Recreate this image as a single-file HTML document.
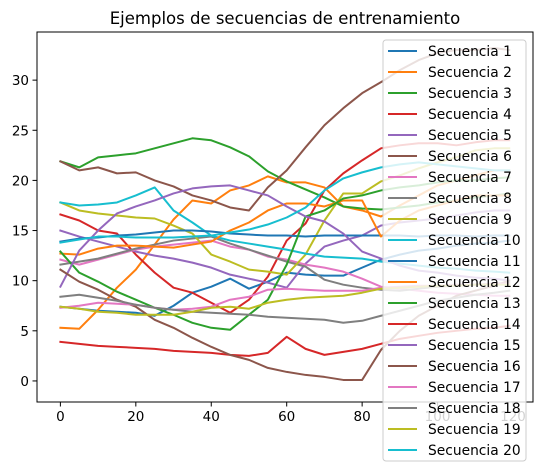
<!DOCTYPE html>
<html><head><meta charset="utf-8"><style>
html,body{margin:0;padding:0;background:#fff;}
svg{display:block;font-family:"DejaVu Sans","Liberation Sans",sans-serif;}
</style></head><body>
<svg id="chart" width="543" height="472" xmlns="http://www.w3.org/2000/svg">
<text x="285" y="24" text-anchor="middle" font-size="16.5">Ejemplos de secuencias de entrenamiento</text>
<g id="plot"></g>
<rect x="37" y="32" width="496" height="370" fill="none" stroke="#000" stroke-width="1"/>
<g id="ticks"></g>
<g id="legend"></g>
</svg>
<script>
const xs = [0,5,10,15,20,25,30,35,40,45,50,55,60,65,70,75,80,85,90,95,100,105,110,115,119];
const s1 = [7.4,7.2,7.0,6.9,6.8,6.5,7.5,8.8,9.4,10.2,9.2,9.9,10.8,10.6,10.5,10.5,11.3,12.1,12.6,13,13.2,13.5,13.7,13.8,14];
const s2 = [5.3,5.2,7.1,9.3,11.1,13.6,16.1,18,17.7,19,19.5,20.4,19.8,19.8,19.3,17.4,17,16.4,17.5,18.5,19.5,20,20.5,21,21];
const s3 = [21.9,21.3,22.3,22.5,22.7,23.2,23.7,24.2,24,23.3,22.4,20.9,19.9,19.1,18.3,17.4,17.2,17.1,17.3,17.5,17.8,18,18.3,18.5,18.7];
const s4 = [16.6,16,15,14.7,12.6,10.8,9.3,8.8,7.8,6.8,8.1,10.4,14,15.7,19,20.7,22,23.2,23.5,23.7,23.7,23.5,23.8,24,24];
const s5 = [15,14.4,13.9,13.4,12.9,12.5,12.2,11.8,11.3,10.6,10.2,9.8,9.3,11.7,13.4,14,14.5,15.5,15.8,16,16.2,16.5,16.8,17,17];
const s6 = [21.9,21,21.3,20.7,20.8,20,19.4,18.5,18,17.3,17,19.3,21,23.3,25.5,27.2,28.7,29.8,31,32,32.7,33,33,33.2,33];
const s7 = [12.1,11.6,12.1,12.6,13.1,13.4,13.6,13.8,14,13.4,13.1,12.4,12.1,11.6,11.3,10.9,10.2,9.4,9.2,9,8.8,8.7,8.6,8.5,8.5];
const s8 = [11.6,11.9,12.2,12.7,13.2,13.6,14,14.2,14.4,13.7,13.1,12.5,11.9,11.4,10.1,9.6,9.3,9.1,9,9.2,9.4,9.5,9.6,9.7,9.8];
const s9 = [17.8,17,16.7,16.5,16.3,16.2,15.5,14.7,12.6,11.9,11.1,10.9,10.6,12.6,16,18.7,18.7,19.9,20.5,21.2,21.8,22.3,23,23.2,23.2];
const s10 = [17.8,17.5,17.6,17.8,18.5,19.3,17,15.8,14.5,14,13.7,13.4,13.1,12.7,12.4,12.3,12.2,11.9,11.7,11.5,11.3,11.2,11,10.9,10.8];
const s11 = [13.9,14.2,14.3,14.5,14.6,14.8,15,15,14.9,14.7,14.6,14.5,14.5,14.4,14.5,14.5,14.5,14.5,14.5,14.4,14.5,14.5,14.4,14.5,14.5];
const s12 = [12.7,12.6,13.2,13.5,13.5,13.4,13.3,13.6,13.9,15,15.8,17,17.7,17.7,17.4,18,18,14.4,16,17,17.5,18,18.5,18.5,18.5];
const s13 = [12.9,10.8,9.9,8.9,8.1,7.3,6.6,5.8,5.3,5.1,6.6,8.1,11.6,16.4,17,18.2,18.5,19,19.3,19.5,19.8,20,20,20.2,20.3];
const s14 = [3.9,3.7,3.5,3.4,3.3,3.2,3.0,2.9,2.8,2.6,2.5,2.8,4.4,3.2,2.6,2.9,3.2,3.7,4.2,4.5,4.8,5,5.2,5.3,5.5];
const s15 = [9.4,13,15,16.7,17.4,18,18.7,19.2,19.4,19.5,19,18.5,17.4,16.4,15.9,14.7,12.9,12.2,11.5,11,10.8,10.5,10.3,10.2,10];
const s16 = [11.1,9.9,9.1,8.1,7.4,6.1,5.3,4.3,3.4,2.6,2.1,1.3,0.9,0.6,0.4,0.1,0.1,3.1,5,6.5,7.5,8.5,9,9.5,10];
const s17 = [7.3,7.5,7.8,7.7,7.6,7.3,7.1,7.2,7.4,8.1,8.4,9.1,9.2,9.1,9.0,9,9,9.3,9.4,9.5,9.5,9.6,9.6,9.7,9.7];
const s18 = [8.4,8.6,8.3,8,7.6,7.3,7.1,6.9,6.8,6.7,6.6,6.4,6.3,6.2,6.1,5.8,6,6.5,7,7.5,8,8.3,8.6,8.8,9];
const s19 = [7.4,7.2,6.9,6.8,6.6,6.6,6.6,6.9,7.3,7.4,7.2,7.8,8.1,8.3,8.4,8.5,8.8,9.2,9.3,9.4,9.5,9.5,9.6,9.6,9.6];
const s20 = [13.8,14.1,14.4,14.4,14.3,14.3,14.3,14.4,14.5,14.8,15.1,15.6,16.3,17.3,19,20.2,20.8,21.3,21.6,21.8,21.6,21.4,21.2,21,21];
const seriesNames = ["Secuencia 1","Secuencia 2","Secuencia 3","Secuencia 4","Secuencia 5","Secuencia 6","Secuencia 7","Secuencia 8","Secuencia 9","Secuencia 10","Secuencia 11","Secuencia 12","Secuencia 13","Secuencia 14","Secuencia 15","Secuencia 16","Secuencia 17","Secuencia 18","Secuencia 19","Secuencia 20"];
const xTicks = [0,20,40,60,80,100,120];
const yTicks = [0,5,10,15,20,25,30];

const allSeries = [s1,s2,s3,s4,s5,s6,s7,s8,s9,s10,s11,s12,s13,s14,s15,s16,s17,s18,s19,s20];
const colors = ["#1f77b4","#ff7f0e","#2ca02c","#d62728","#9467bd","#8c564b","#e377c2","#7f7f7f","#bcbd22","#17becf"];
const NS = "http://www.w3.org/2000/svg";
const L=37,T=32,R=533,B=402, XMIN=-6.2, XMAX=125.3, YMIN=-2.1, YMAX=34.8;
function sx(v){return L+(v-XMIN)/(XMAX-XMIN)*(R-L);}
function sy(v){return B-(v-YMIN)/(YMAX-YMIN)*(B-T);}
function mk(tag,attrs,parent){const e=document.createElementNS(NS,tag);for(const k in attrs)e.setAttribute(k,attrs[k]);parent.appendChild(e);return e;}

const plot=document.getElementById('plot');
allSeries.forEach((s,i)=>{
  const d=s.map((v,j)=>(j?'L':'M')+sx(xs[j]).toFixed(2)+' '+sy(v).toFixed(2)).join(' ');
  const p=mk('path',{d:d,fill:'none',stroke:colors[i%10],'stroke-width':2,'stroke-linejoin':'round','stroke-linecap':'square'},plot);
  
  
});

const tg=document.getElementById('ticks');
xTicks.forEach(t=>{
  const x=sx(t);
  const ln=mk('line',{x1:x,x2:x,y1:B,y2:B+4.5,stroke:'#000','stroke-width':1},tg);
  
  
  const tx=mk('text',{x:x,y:B+19,'text-anchor':'middle','font-size':13.5},tg);
  tx.textContent=t;
  
  
});
yTicks.forEach(t=>{
  const y=sy(t);
  const ln=mk('line',{x1:L-4.5,x2:L,y1:y,y2:y,stroke:'#000','stroke-width':1},tg);
  
  
  const tx=mk('text',{x:L-8,y:y+5,'text-anchor':'end','font-size':13.5},tg);
  tx.textContent=t;
  
  
});

const lg=document.getElementById('legend');
const box=mk('rect',{x:383,y:40,width:143,height:421,rx:3,fill:'#fff','fill-opacity':0.82,stroke:'#ccc','stroke-width':1},lg);


seriesNames.forEach((n,i)=>{
  const y=51+i*21;
  const g=mk('g',{},lg);
  
  
  mk('line',{x1:388,x2:417,y1:y,y2:y,stroke:colors[i%10],'stroke-width':2},g);
  const tx=mk('text',{x:428,y:y+5,'font-size':13.8},g);
  tx.textContent=n;
});
</script>
</body></html>
